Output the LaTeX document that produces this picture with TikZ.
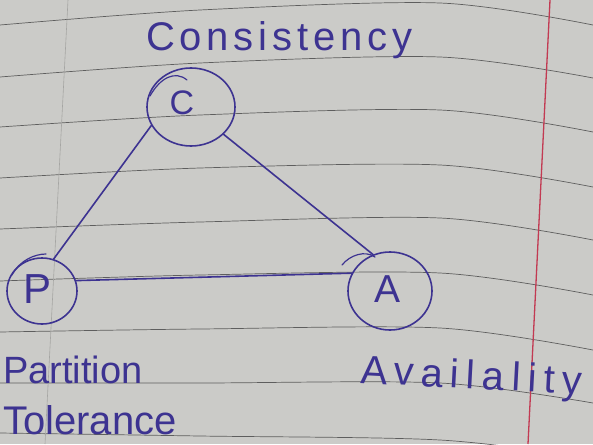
\documentclass[tikz,border=0pt]{standalone}
\usepackage{fontspec}
\newfontfamily\hand[LetterSpace=12]{Liberation Sans}
\newfontfamily\handwide[LetterSpace=18]{Liberation Sans}
\newfontfamily\handplain{Liberation Sans}
\usetikzlibrary{shapes.geometric}
\definecolor{ink}{HTML}{3D3391}
\definecolor{paper}{HTML}{CBCBC8}
\definecolor{rule}{HTML}{5E5E5E}
\definecolor{margin}{HTML}{C23A52}
\begin{document}
\begin{tikzpicture}[x=1pt,y=-1pt,
  ring/.style={ellipse, draw=ink, line width=1.6pt, inner sep=0pt},
  letter/.style={text=ink, inner sep=0pt},
  word/.style={text=ink, inner sep=0pt},
  edge/.style={draw=ink, line width=1.6pt, line cap=round},
  ruling/.style={draw=rule, line width=0.7pt}]
\useasboundingbox (0,0) rectangle (593,444);
\clip (0,0) rectangle (593,444);
\fill[paper] (0,0) rectangle (593,444);
% ruled paper
\foreach \a/\b/\c/\d in {25/10/3/25, 77/63/57/78, 127/115/110/132, 178/168/165/187,
  229/222/218/240, 281/275/273/295, 332/329/328/350, 383/383/383/403, 433/436/440/458}
  \draw[ruling] plot[smooth] coordinates {(0,\a) (200,\b) (440,\c) (593,\d)};
\draw[rule!35!paper, line width=0.6pt] (68,0) -- (45,444);
\draw[margin, line width=1.3pt] (550,0) -- (528,444);
% circles
\node[ring, minimum width=88pt, minimum height=78pt] (cC) at (191,107) {};
\node[ring, minimum width=70pt, minimum height=66pt] (cP) at (42,291) {};
\node[ring, minimum width=84pt, minimum height=78pt] (cA) at (390,291) {};
% overlapping pen strokes of the circles
\draw[edge, line width=1.2pt] (150,96) .. controls (160,78) and (175,70) .. (187,80);
\draw[edge, line width=1.2pt] (342,265) .. controls (350,255) and (365,250) .. (375,257);
\draw[edge, line width=1.2pt] (12,275) .. controls (20,260) and (35,254) .. (46,254);
% letters
\node[letter, font=\handplain\fontsize{34}{34}\selectfont] (lC) at (182,103) {C};
\node[letter, font=\handplain\fontsize{42}{42}\selectfont] (lP) at (38,289) {P};
\node[letter, font=\handplain\fontsize{39}{39}\selectfont] (lA) at (387,289) {A};
% connectors
\draw[edge] (cC.205) -- (cP.70);
\draw[edge] (cC.-40) -- (cA.115);
\draw[edge] (cP.17) -- (cA.155);
% labels
\node[word, anchor=base west, font=\hand\fontsize{40}{40}\selectfont] (tC) at (146,50) {Consistency};
\node[word, anchor=base west, font=\handplain\fontsize{38}{38}\selectfont] (tP) at (3,383) {Partition};
\node[word, anchor=base west, font=\handplain\fontsize{40}{40}\selectfont] (tT) at (3,434) {Tolerance};
\node[word, anchor=base west, rotate=-3, font=\handwide\fontsize{40}{40}\selectfont] (tA) at (360,383) {Availality};
\end{tikzpicture}
\end{document}
